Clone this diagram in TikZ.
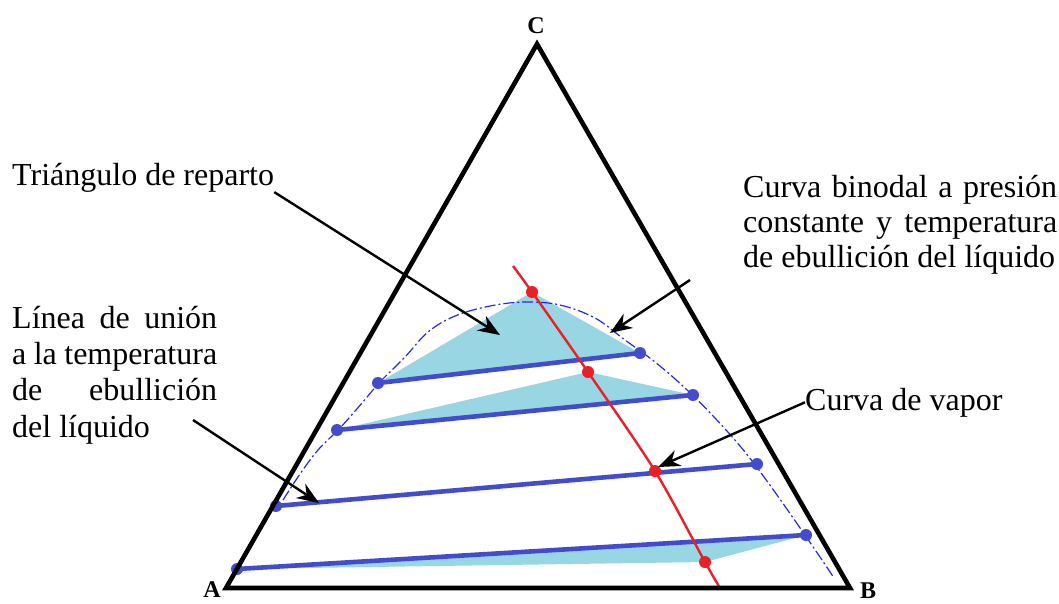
\documentclass[tikz,border=0pt]{standalone}
\usepackage{fontspec}
\setmainfont{Liberation Serif}
\usetikzlibrary{arrows.meta}
\definecolor{tieblue}{RGB}{66,76,204}
\definecolor{tiefill}{RGB}{152,214,228}
\definecolor{vapred}{RGB}{232,32,40}
\definecolor{binblue}{RGB}{40,40,235}
\newcommand{\spreadline}[2]{\makebox[#1][s]{#2}}
\tikzset{
  side/.style      = {line width=4.6pt, line join=miter},
  tie/.style       = {line width=4.6pt, tieblue},
  tie dot/.style   = {circle, fill=tieblue, inner sep=0pt, minimum size=12pt},
  vap dot/.style   = {circle, fill=vapred, inner sep=0pt, minimum size=12pt},
  vapline/.style   = {line width=2.4pt, vapred},
  binodal/.style   = {line width=1.2pt, binblue, dash pattern=on 11pt off 3pt on 2pt off 3pt},
  pointer/.style   = {-{Stealth[length=22pt,width=17pt]}, line width=2.4pt},
  tiefan/.style    = {fill=tiefill},
  corner/.style    = {font=\fontsize{24}{24}\selectfont\bfseries, inner sep=0pt},
  annot/.style     = {font=\fontsize{32}{36}\selectfont, inner sep=0pt, align=left, anchor=base west},
}

\begin{document}
\begin{tikzpicture}[x=1pt,y=-1pt]
  \useasboundingbox (0,0) rectangle (1059,603);
  \coordinate (A) at (226,588);
  \coordinate (B) at (850,588);
  \coordinate (C) at (537,44);

  \coordinate (a1) at (378,383);  \coordinate (b1) at (640,353);
  \coordinate (a2) at (337,430);  \coordinate (b2) at (693,395);
  \coordinate (a3) at (276,506);  \coordinate (b3) at (757,464);
  \coordinate (a4) at (237,569);  \coordinate (b4) at (806,535);
  \coordinate (r1) at (532,292);
  \coordinate (r2) at (588,372);
  \coordinate (r3) at (655,471);
  \coordinate (r4) at (705,562);
  \coordinate (rtop) at (513,266);
  \coordinate (rbot) at (720,588);

  \fill[tiefan] (a1) -- (b1) -- (r1) -- cycle;
  \fill[tiefan] (a2) -- (b2) -- (r2) -- cycle;
  \fill[tiefan] (a4) -- (b4) -- (r4) -- cycle;

  \draw[binodal] plot[smooth,tension=0.6] coordinates {(283,500) (300,474) (318,450) (340,428)
    (362,403) (380,382) (405,357) (428,332) (455,316) (490,306) (525,302) (560,305) (595,318)
    (625,340) (655,362) (685,388) (715,418) (745,452) (772,488) (798,525) (820,557) (834,578)};

  \draw[tie] (a1) -- (b1);
  \draw[tie] (a2) -- (b2);
  \draw[tie] (a3) -- (b3);
  \draw[tie] (a4) -- (b4);

  \draw[vapline] plot[smooth] coordinates {(rtop) (r1) (r2) (r3) (r4) (rbot)};

  \foreach \p in {a1,b1,a2,b2,a3,b3,a4,b4}
    \node[tie dot] (d\p) at (\p) {};
  \foreach \p in {r1,r2,r3,r4}
    \node[vap dot] (d\p) at (\p) {};

  \draw[side] (A) -- (B) -- (C) -- cycle;
  \node[corner] (labA) at (212,590) {A};
  \node[corner] (labB) at (868,591) {B};
  \node[corner] (labC) at (536,26) {C};

  \node[annot] (reparto) at (12,185) {Triángulo de reparto};
  \node[annot,font=\fontsize{32}{36.3}\selectfont] (union) at (12,437)
    {\spreadline{205pt}{Línea de unión}\\ \spreadline{205pt}{a la temperatura}\\
     \spreadline{205pt}{de ebullición}\\ del líquido};
  \node[annot,font=\fontsize{32}{35}\selectfont] (binodal) at (743,267)
    {\spreadline{314pt}{Curva binodal a presión}\\ \spreadline{314pt}{constante y temperatura}\\
     de ebullición del líquido};
  \node[annot] (vapor) at (805,410) {Curva de vapor};

  \coordinate (tipT) at (500,335);
  \coordinate (tipU) at (319,503);
  \coordinate (tipB) at (610,333);
  \coordinate (tipV) at (658,467);
  \coordinate (fromU) at (193,420);
  \coordinate (fromB) at (690,280);

  \draw[pointer] (reparto.south east) -- (tipT);
  \draw[pointer] (fromU) -- (tipU);
  \draw[pointer] (fromB) -- (tipB);
  \draw[pointer] (vapor.west) -- (tipV);
\end{tikzpicture}
\end{document}
